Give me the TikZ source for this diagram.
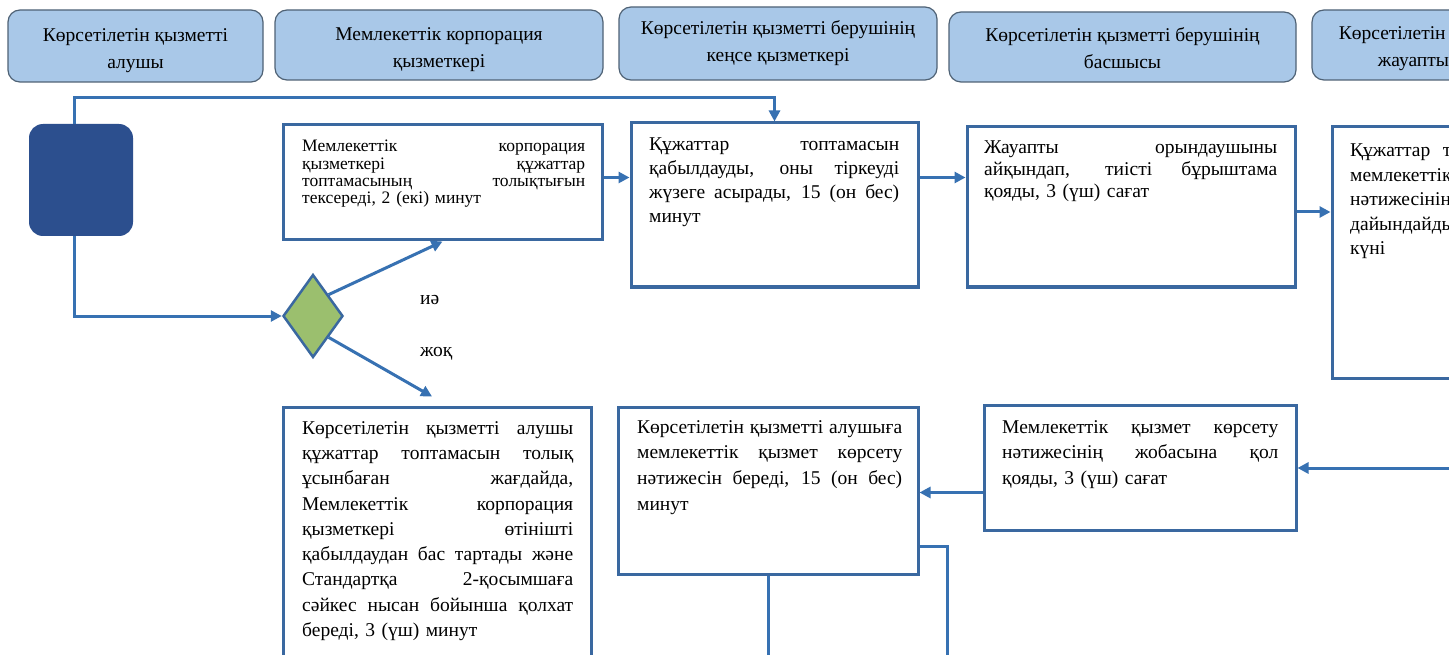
\documentclass[tikz,border=0pt]{standalone}
\usepackage{fontspec}
\setmainfont{Liberation Serif}
\usetikzlibrary{arrows.meta,shapes.geometric,calc}
\definecolor{hdrfill}{HTML}{A9C8E8}
\definecolor{hdrdraw}{HTML}{4F6275}
\definecolor{boxdraw}{HTML}{3A68A0}
\definecolor{arr}{HTML}{3771B2}
\definecolor{startfill}{HTML}{2C4F8E}
\definecolor{dfill}{HTML}{9BBF6E}
\newcommand{\jl}[1]{\leavevmode{\spaceskip=\fontdimen2\font plus 1fil\relax\hbox to \hsize{#1}}}
\begin{document}
\begin{tikzpicture}[x=1pt,y=-1pt,
  hdr/.style={draw=hdrdraw, fill=hdrfill, line width=1.2pt, rounded corners=12pt, inner sep=0pt},
  htxt/.style={inner sep=0pt, align=center, font=\fontsize{19.5}{27}\selectfont},
  frame/.style={draw=boxdraw, line width=3pt, fill=white, inner sep=0pt},
  txt/.style={inner sep=0pt, anchor=north west, align=left},
  conn/.style={draw=arr, line width=3pt},
  arrowc/.style={conn, -{Triangle[length=11pt,width=11pt]}},
  lbl/.style={inner sep=0pt, anchor=west, font=\fontsize{19.5}{24}\selectfont},
]
\clip (0,0) rectangle (1449,655);
\fill[white] (0,0) rectangle (1449,655);

% headers
\node[hdr, minimum width=255pt, minimum height=72pt] (h1) at (135.5,46) {};
\node[htxt] (h1t) at (135.5,51) {Көрсетілетін қызметті\\алушы};
\node[hdr, minimum width=328pt, minimum height=70pt] (h2) at (439,45) {};
\node[htxt] (h2t) at (439,50) {Мемлекеттік корпорация\\қызметкері};
\node[hdr, minimum width=318pt, minimum height=73pt] (h3) at (778,43.5) {};
\node[htxt] (h3t) at (778,43.5) {Көрсетілетін қызметті берушінің\\кеңсе қызметкері};
\node[hdr, minimum width=347pt, minimum height=70pt] (h4) at (1122.5,47) {};
\node[htxt] (h4t) at (1122.5,48) {Көрсетілетін қызметті берушінің\\басшысы};
\node[hdr, minimum width=328pt, minimum height=70pt] (h5) at (1476,45) {};
\node[htxt] (h5t) at (1476,48.5) {Көрсетілетін қызметті берушінің\\жауапты орындаушысы};

% start and decision
\node[fill=startfill, rounded corners=14pt, minimum width=104pt, minimum height=112pt, inner sep=0pt] (s) at (81,180) {};
\node[diamond, draw=boxdraw, fill=dfill, line width=2.5pt, minimum width=60pt, minimum height=83pt, inner sep=0pt] (d) at (313,316) {};

% frames
\node[frame, minimum width=319pt, minimum height=115pt] (b1) at (442.5,182.5) {};
\node[frame, minimum width=287pt, minimum height=164pt] (b2) at (774.5,205) {};
\node[frame, minimum width=328pt, minimum height=160pt] (b3) at (1131,207) {};
\node[frame, minimum width=328pt, minimum height=251pt] (b4) at (1496,252.5) {};
\node[frame, minimum width=308pt, minimum height=293pt] (bl) at (437,553.5) {};
\node[frame, minimum width=300pt, minimum height=167pt] (bm) at (768,490.5) {};
\node[frame, minimum width=312pt, minimum height=125pt] (br) at (1140,467.5) {};

% texts
\node[txt, text width=283pt, font=\fontsize{17.5}{17.3}\selectfont] (t1) at (302,140)
 {\jl{Мемлекеттік корпорация}\\\jl{қызметкері құжаттар}\\\jl{топтамасының толықтығын}\\тексереді, 2 (екі) минут};
\node[txt, text width=250pt, font=\fontsize{19.5}{24}\selectfont] (t2) at (649,138)
 {\jl{Құжаттар топтамасын}\\\jl{қабылдауды, оны тіркеуді}\\\jl{жүзеге асырады, 15 (он бес)}\\минут};
\node[txt, text width=293pt, font=\fontsize{19.5}{22}\selectfont] (t3) at (984,141)
 {\jl{Жауапты орындаушыны}\\\jl{айқындап, тиісті бұрыштама}\\қояды, 3 (үш) сағат};
\node[txt, text width=293pt, font=\fontsize{19.5}{24.5}\selectfont] (t4) at (1350,143)
 {Құжаттар\hspace{6pt} топтамасын қарайды,\\\jl{мемлекеттік қызмет көрсету}\\\jl{нәтижесінің жобасын}\\\jl{дайындайды, 3 (үш) жұмыс}\\күні};
\node[txt, text width=271pt, font=\fontsize{19.5}{25.3}\selectfont] (tl) at (302,421)
 {\jl{Көрсетілетін қызметті алушы}\\\jl{құжаттар топтамасын толық}\\\jl{ұсынбаған жағдайда,}\\\jl{Мемлекеттік корпорация}\\\jl{қызметкері өтінішті}\\\jl{қабылдаудан бас тартады және}\\\jl{Стандартқа 2-қосымшаға}\\\jl{сәйкес нысан бойынша қолхат}\\береді, 3 (үш) минут};
\node[txt, text width=265pt, font=\fontsize{19.5}{25.8}\selectfont] (tm) at (637,420)
 {\jl{Көрсетілетін қызметті алушыға}\\\jl{мемлекеттік қызмет көрсету}\\\jl{нәтижесін береді, 15 (он бес)}\\минут};
\node[txt, text width=276pt, font=\fontsize{19.5}{25.5}\selectfont] (tr) at (1002,420)
 {\jl{Мемлекеттік қызмет көрсету}\\\jl{нәтижесінің жобасына қол}\\қояды, 3 (үш) сағат};

% labels
\node[lbl] (yes) at (420,300) {иә};
\node[lbl] (no) at (420,354) {жоқ};

% connectors
\draw[arrowc] ([xshift=-7pt]s.north) -- ++(0,-26) -| (b2.north);
\draw[arrowc] ([xshift=-7pt]s.south) |- (d.west);
\draw[arrowc] (d.north east) -- (b1.south);
\draw[arrowc] (d.south east) -- ([xshift=-5pt,yshift=9pt]bl.north);
\draw[arrowc] ([yshift=5pt]b1.east) -- ([yshift=5pt]b1.east -| b2.west);
\draw[arrowc] ([yshift=5pt]b1.east -| b2.east) -- ([yshift=5pt]b1.east -| b3.west);
\draw[arrowc] ([yshift=-5pt]b3.east) -- ([yshift=-5pt]b3.east -| b4.west);
\coordinate (rin) at (1460,468);
\draw[arrowc] (rin) -- (rin -| br.east);
\draw[arrowc] ([yshift=-2pt]bm.east -| br.west) -- ([yshift=-2pt]bm.east);
\coordinate (e1) at (768,665);
\draw[conn] (bm.south) -- (e1);
\coordinate (e2) at (947,665);
\draw[conn] ([yshift=-56pt]bm.east) -| (e2);
\end{tikzpicture}
\end{document}
